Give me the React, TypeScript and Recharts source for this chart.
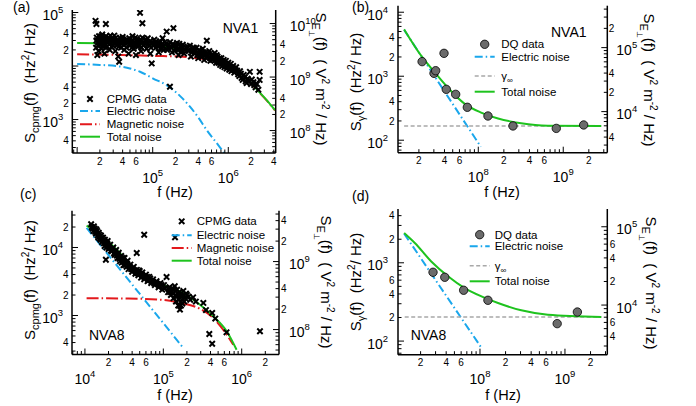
import React from 'react';
import { ComposedChart, Line, Scatter, XAxis, YAxis } from 'recharts';

const FONT = '"Liberation Sans", Arial, Helvetica, sans-serif';
const GREEN = '#1ec31e';
const BLUE = '#1aa7ec';
const RED = '#e3191c';
const GRAY = '#a8a8a8';
const DQFILL = '#6b6b6b';

type Pair = [number, number];

// ---------- (a) NVA1, CPMG ----------
const cpmgA: Pair[] = [
  [1.75e4, 7.0e4], [1.8e4, 6.1e4], [1.8e4, 3.0e4], [1.85e4, 1.6e4], [1.9e4, 2.4e4], [1.95e4, 3.6e4],
  [2.0e4, 2.8e4], [2.05e4, 3.3e4], [2.1e4, 2.1e4], [2.15e4, 3.9e4], [2.2e4, 2.6e4], [2.3e4, 1.7e4],
  [2.35e4, 3.1e4], [2.4e4, 6.1e4], [2.45e4, 2.9e4], [2.5e4, 2.3e4], [2.6e4, 3.4e4], [2.7e4, 2.0e4],
  [2.8e4, 2.7e4], [2.9e4, 3.2e4], [3.0e4, 2.4e4], [3.1e4, 3.7e4], [3.2e4, 1.9e4], [3.3e4, 2.9e4],
  [3.4e4, 2.5e4], [3.5e4, 1.5e4], [3.6e4, 1.2e4], [3.7e4, 3.3e4], [3.8e4, 2.2e4], [3.9e4, 2.8e4],
  [4.0e4, 3.5e4], [4.2e4, 2.0e4], [4.4e4, 2.6e4], [4.6e4, 3.1e4], [4.8e4, 1.7e4], [5.0e4, 2.4e4],
  [5.2e4, 2.9e4], [5.4e4, 3.6e4], [5.6e4, 2.1e4], [5.8e4, 2.7e4], [6.0e4, 1.6e4], [6.2e4, 3.2e4],
  [6.4e4, 2.3e4], [6.8e4, 9.9e4], [6.8e4, 2.8e4], [7.0e4, 1.9e4], [7.3e4, 6.3e4], [7.3e4, 3.4e4],
  [7.6e4, 2.5e4], [8.0e4, 2.9e4], [8.3e4, 2.1e4], [8.6e4, 3.3e4], [9.0e4, 2.4e4], [9.3e4, 1.7e4],
  [9.7e4, 1.12e4], [1.0e5, 2.7e4], [1.05e5, 3.1e4], [1.1e5, 2.2e4], [1.15e5, 2.6e4], [1.2e5, 1.8e4],
  [1.25e5, 2.9e4], [1.3e5, 2.4e4], [1.35e5, 3.3e4], [1.4e5, 2.0e4], [1.5e5, 2.6e4], [1.53e5, 4.4e4],
  [1.6e5, 2.2e4], [1.69e5, 4.1e3], [1.7e5, 2.8e4], [1.8e5, 1.8e4], [1.88e5, 5.1e4], [1.9e5, 2.4e4],
  [2.0e5, 2.1e4], [2.1e5, 2.7e4], [2.2e5, 1.6e4], [2.3e5, 2.3e4], [2.4e5, 2.0e4], [2.5e5, 2.5e4],
  [2.6e5, 1.7e4], [2.8e5, 2.2e4], [3.0e5, 1.9e4], [3.1e5, 2.4e4], [3.2e5, 1.5e4], [3.4e5, 2.0e4],
  [3.6e5, 1.7e4], [3.8e5, 2.2e4], [4.0e5, 1.4e4], [4.2e5, 1.9e4], [4.4e5, 1.6e4], [4.6e5, 2.1e4],
  [4.8e5, 1.3e4], [5.0e5, 1.8e4], [5.2e5, 2.97e4], [5.3e5, 1.5e4], [5.6e5, 1.9e4], [5.8e5, 1.25e4],
  [6.0e5, 1.6e4], [6.3e5, 1.4e4], [6.6e5, 1.75e4], [6.9e5, 1.15e4], [7.2e5, 1.5e4], [7.5e5, 1.3e4],
  [7.8e5, 1.05e4], [8.1e5, 1.4e4], [8.5e5, 1.15e4], [8.9e5, 9.5e3], [9.3e5, 1.25e4], [9.8e5, 1.0e4],
  [1.03e6, 8.5e3], [1.08e6, 1.1e4], [1.13e6, 9.0e3], [1.2e6, 7.5e3], [1.27e6, 9.5e3], [1.35e6, 7.0e3],
  [1.43e6, 8.0e3], [1.5e6, 6.0e3], [1.6e6, 6.8e3], [1.7e6, 5.2e3], [1.8e6, 5.8e3], [1.93e6, 7.8e3],
  [2.0e6, 4.6e3], [2.15e6, 5.0e3], [2.3e6, 4.0e3], [2.5e6, 3.6e3], [2.6e6, 7.8e3], [2.6e6, 5.5e3],
  [1.78e4, 2.2e4], [1.82e4, 3.4e4], [1.88e4, 2.7e4], [1.92e4, 1.9e4], [1.98e4, 3.1e4], [2.02e4, 2.5e4],
  [2.08e4, 3.6e4], [2.12e4, 2.9e4], [2.18e4, 2.3e4], [2.25e4, 3.4e4], [2.28e4, 2.8e4], [2.38e4, 2.2e4],
  [2.42e4, 3.6e4], [2.55e4, 2.7e4], [2.65e4, 3.0e4], [2.75e4, 3.7e4], [2.85e4, 2.3e4], [2.95e4, 2.8e4],
  [3.05e4, 3.1e4], [3.15e4, 2.6e4], [3.25e4, 3.4e4], [3.45e4, 3.0e4], [3.55e4, 2.3e4], [3.75e4, 2.7e4],
  [3.95e4, 3.2e4], [4.1e4, 2.5e4], [4.3e4, 3.0e4], [4.5e4, 2.2e4], [4.7e4, 2.8e4], [4.9e4, 3.3e4],
  [5.1e4, 2.6e4], [5.3e4, 2.2e4], [5.5e4, 3.0e4], [5.7e4, 2.4e4], [5.9e4, 3.4e4], [6.1e4, 2.6e4],
  [6.3e4, 2.9e4], [6.6e4, 2.5e4], [6.9e4, 3.1e4], [7.1e4, 2.2e4], [7.8e4, 2.7e4], [8.2e4, 3.1e4],
  [8.8e4, 2.6e4], [9.2e4, 2.9e4], [9.5e4, 2.2e4], [1.02e5, 2.4e4], [1.08e5, 2.8e4], [1.12e5, 2.5e4],
  [1.18e5, 2.3e4], [1.22e5, 2.7e4], [1.28e5, 2.1e4], [1.33e5, 2.6e4], [1.38e5, 2.3e4], [1.45e5, 2.8e4],
  [1.55e5, 2.0e4], [1.65e5, 2.5e4], [1.75e5, 2.2e4], [1.85e5, 2.6e4], [1.95e5, 1.9e4], [2.05e5, 2.4e4],
  [2.15e5, 2.0e4], [2.25e5, 2.6e4], [2.35e5, 1.8e4], [2.45e5, 2.2e4], [2.7e5, 2.0e4], [2.9e5, 2.3e4],
  [3.3e5, 1.8e4], [3.5e5, 2.2e4], [3.7e5, 1.9e4], [3.9e5, 1.6e4], [4.1e5, 2.0e4], [4.3e5, 1.7e4],
  [4.5e5, 1.5e4], [4.7e5, 1.8e4], [4.9e5, 1.6e4], [5.1e5, 1.4e4], [5.5e5, 1.7e4], [5.7e5, 1.45e4],
  [6.1e5, 1.3e4], [6.5e5, 1.55e4], [6.8e5, 1.3e4], [7.0e5, 1.6e4], [7.4e5, 1.15e4], [7.7e5, 1.4e4],
  [8.0e5, 1.2e4], [8.3e5, 1.0e4], [8.7e5, 1.3e4], [9.1e5, 1.1e4], [9.5e5, 9.0e3], [1.0e6, 1.15e4],
  [1.06e6, 9.5e3], [1.1e6, 8.0e3], [1.16e6, 1.0e4], [1.24e6, 8.5e3], [1.31e6, 8.2e3], [1.4e6, 6.5e3],
  [1.47e6, 7.2e3], [1.55e6, 5.5e3], [1.65e6, 6.2e3], [1.75e6, 4.8e3], [1.85e6, 5.3e3], [2.05e6, 5.6e3],
  [2.2e6, 4.4e3], [2.4e6, 4.6e3],
];
const elecA: Pair[] = [
  [1e4, 1.09e4], [2e4, 1.05e4], [3.3e4, 1.0e4], [5e4, 9.0e3], [6.8e4, 7.8e3], [1e5, 5.9e3],
  [1.69e5, 4.0e3], [2.4e5, 2.6e3], [3.11e5, 1.74e3], [4e5, 1.1e3], [5.18e5, 637], [6.4e5, 430],
  [7.8e5, 300], [9e5, 230],
];
const magA: Pair[] = [
  [1e4, 1.66e4], [3e4, 1.62e4], [1e5, 1.55e4], [2.54e5, 1.49e4], [4e5, 1.4e4], [5.2e5, 1.33e4],
  [7.8e5, 1.17e4], [1.16e6, 8.9e3], [1.75e6, 5.8e3], [2.38e6, 3.6e3], [3.22e6, 2.28e3], [4.15e6, 1.48e3],
];
const totA: Pair[] = [
  [1e4, 2.7e4], [3.7e4, 2.65e4], [9.6e4, 2.5e4], [1.97e5, 2.14e4], [4.2e5, 1.73e4], [7.8e5, 1.2e4],
  [1.16e6, 9.06e3], [1.75e6, 5.9e3], [2.38e6, 3.66e3], [3.22e6, 2.31e3], [4.15e6, 1.5e3],
];

// ---------- (b) NVA1, DQ ----------
const dqB: Pair[] = [
  [2.18e7, 1.69e3], [3.01e7, 1.11e3], [3.15e7, 1.22e3], [3.95e7, 2.28e3], [4.2e7, 624], [5.42e7, 521],
  [7.43e7, 327], [1.3e8, 239], [2.56e8, 167], [8.28e8, 153], [1.74e9, 173],
];
const elecB: Pair[] = [[1.34e7, 5.3e3], [1.07e8, 79]];
const gamB: Pair[] = [[1.34e7, 167], [2.8e9, 167]];
const totB: Pair[] = [
  [1.34e7, 5.4e3], [2.18e7, 2.0e3], [3.07e7, 1.15e3], [4.4e7, 660], [6.92e7, 370], [1.08e8, 270],
  [1.71e8, 218], [3.2e8, 184], [6.6e8, 169], [2.8e9, 167],
];

// ---------- (c) NVA8, CPMG ----------
const cpmgC: Pair[] = [
  [1.2e4, 2.2e4], [1.25e4, 1.9e4], [1.3e4, 2.05e4], [1.35e4, 1.7e4], [1.4e4, 1.85e4], [1.45e4, 1.5e4],
  [1.5e4, 1.65e4], [1.55e4, 1.35e4], [1.6e4, 1.5e4], [1.65e4, 1.2e4], [1.7e4, 1.4e4], [1.75e4, 1.15e4],
  [1.8e4, 1.3e4], [1.85e4, 6.6e3], [1.9e4, 1.1e4], [1.95e4, 1.25e4], [2.0e4, 9.5e3], [2.1e4, 1.1e4],
  [2.2e4, 8.8e3], [2.3e4, 1.0e4], [2.4e4, 7.8e3], [2.5e4, 9.2e3], [2.6e4, 7.0e3], [2.7e4, 8.4e3],
  [2.8e4, 6.3e3], [2.9e4, 7.5e3], [3.0e4, 6.6e3], [3.1e4, 5.5e3], [3.2e4, 7.0e3], [3.3e4, 6.0e3],
  [3.4e4, 5.2e3], [3.5e4, 6.4e3], [3.6e4, 4.8e3], [3.8e4, 5.6e3], [4.0e4, 4.4e3], [4.2e4, 5.2e3],
  [4.4e4, 4.1e3], [4.58e4, 8.3e3], [4.6e4, 4.7e3], [4.8e4, 3.9e3], [5.0e4, 4.5e3], [5.2e4, 3.6e3],
  [5.4e4, 4.3e3], [5.7e4, 1.54e4], [5.7e4, 3.4e3], [6.0e4, 4.0e3], [6.3e4, 3.2e3], [6.6e4, 3.7e3],
  [7.0e4, 3.0e3], [7.4e4, 3.4e3], [7.8e4, 2.8e3], [8.2e4, 3.2e3], [8.7e4, 2.6e3], [9.2e4, 3.0e3],
  [9.7e4, 2.4e3], [1.02e5, 2.8e3], [1.1e5, 3.68e3], [1.15e5, 2.2e3], [1.2e5, 2.6e3], [1.25e5, 2.0e3],
  [1.3e5, 2.5e3], [1.35e5, 1.8e3], [1.4e5, 2.7e3], [1.41e5, 1.41e4], [1.45e5, 1.6e3], [1.5e5, 2.4e3],
  [1.55e5, 1.4e3], [1.6e5, 2.2e3], [1.63e5, 1.22e3], [1.7e5, 1.9e3], [1.75e5, 1.5e3], [1.8e5, 2.3e3],
  [1.9e5, 1.8e3], [2.0e5, 2.0e3], [2.2e5, 1.7e3], [2.4e5, 1.85e3], [2.6e5, 1.6e3], [3.24e5, 1.53e3],
  [3.5e5, 1.2e3], [3.86e5, 535], [4.2e5, 1.09e3], [4.2e5, 384], [4.6e5, 900], [6.4e5, 566], [1.71e6, 587],
  [1.22e4, 2.0e4], [1.28e4, 1.75e4], [1.33e4, 1.9e4], [1.38e4, 1.6e4], [1.43e4, 1.75e4], [1.48e4, 1.4e4],
  [1.53e4, 1.55e4], [1.58e4, 1.3e4], [1.63e4, 1.4e4], [1.68e4, 1.25e4], [1.73e4, 1.3e4], [1.78e4, 1.05e4],
  [1.83e4, 1.2e4], [1.88e4, 1.0e4], [1.93e4, 1.15e4], [2.05e4, 1.0e4], [2.15e4, 9.0e3], [2.25e4, 9.6e3],
  [2.35e4, 8.2e3], [2.45e4, 8.6e3], [2.55e4, 7.6e3], [2.65e4, 8.0e3], [2.75e4, 6.8e3], [2.85e4, 7.2e3],
  [2.95e4, 6.0e3], [3.05e4, 7.0e3], [3.15e4, 6.2e3], [3.25e4, 5.5e3], [3.45e4, 5.8e3], [3.7e4, 5.2e3],
  [3.9e4, 4.8e3], [4.1e4, 5.0e3], [4.3e4, 4.6e3], [4.5e4, 4.3e3], [4.7e4, 4.2e3], [4.9e4, 4.6e3],
  [5.1e4, 4.1e3], [5.3e4, 4.0e3], [5.5e4, 3.8e3], [5.9e4, 3.6e3], [6.2e4, 3.7e3], [6.5e4, 3.3e3],
  [6.8e4, 3.5e3], [7.2e4, 3.2e3], [7.6e4, 3.0e3], [8.0e4, 3.0e3], [8.5e4, 2.9e3], [9.0e4, 2.7e3],
  [9.5e4, 2.8e3], [1.05e5, 2.5e3], [1.18e5, 2.4e3], [1.22e5, 2.2e3], [1.28e5, 2.3e3], [1.33e5, 2.1e3],
  [1.38e5, 2.4e3], [1.43e5, 2.0e3], [1.48e5, 1.9e3], [1.53e5, 2.1e3], [1.58e5, 1.7e3], [1.65e5, 2.0e3],
  [1.68e5, 1.4e3], [1.72e5, 1.7e3], [1.78e5, 2.0e3], [1.85e5, 1.6e3], [1.95e5, 2.1e3], [2.1e5, 1.9e3],
];
const elecC: Pair[] = [[1.05e4, 1.94e4], [1.8e5, 333]];
const magC: Pair[] = [
  [1.05e4, 1.8e3], [3e4, 1.78e3], [9.1e4, 1.71e3], [1.63e5, 1.53e3], [2.94e5, 1.25e3], [4.34e5, 918],
  [6.44e5, 522], [7.8e5, 372],
];
const totC: Pair[] = [
  [1.05e4, 2.09e4], [1.56e4, 1.54e4], [2.55e4, 9.3e3], [4.14e4, 5.0e3], [6.76e4, 3.56e3], [1.1e5, 2.69e3],
  [1.8e5, 2.14e3], [2.94e5, 1.44e3], [4.34e5, 973], [6.44e5, 586], [8.6e5, 314],
];

// ---------- (d) NVA8, DQ ----------
const dqD: Pair[] = [[2.8e7, 757], [3.85e7, 653], [6.42e7, 446], [1.24e8, 332], [8.1e8, 167], [1.4e9, 235]];
const elecD: Pair[] = [[1.28e7, 2.36e3], [1.04e8, 82]];
const gamD: Pair[] = [[1.3e7, 203], [2.7e9, 203]];
const totD: Pair[] = [
  [1.28e7, 2.4e3], [1.71e7, 1.79e3], [2.67e7, 1.04e3], [4.2e7, 673], [6.6e7, 476], [1.04e8, 373],
  [1.63e8, 307], [3.06e8, 247], [6.3e8, 217], [2.67e9, 203],
];

const pts = (a: Pair[]) => a.map(([f, S]) => ({ f, S }));

// ---------- axes helpers ----------
const dec = (v: number) => Math.floor(Math.log10(v) + 1e-9);
const mant = (v: number) => Math.round(v / Math.pow(10, dec(v)));
const logTicks = (lo: number, hi: number) => {
  const out: number[] = [];
  for (let e = dec(lo); e <= dec(hi); e++) {
    for (let m = 1; m < 10; m++) {
      const v = m * Math.pow(10, e);
      if (v >= lo && v <= hi) out.push(v);
    }
  }
  return out;
};
const same = (a: number, b: number) => Math.abs(a / b - 1) < 1e-6;

const MAJ = 6;
const MIN = 3.5;
const AX = { stroke: '#000', strokeWidth: 1.5 };

const Pow = ({ x, y, e, anchor }: { x: number; y: number; e: number; anchor: string }) => (
  <text x={x} y={y} textAnchor={anchor as any} fontFamily={FONT} fontSize={14} fill="#000">
    10<tspan dy={-7} fontSize={9.5}>{e}</tspan>
  </text>
);
const Small = ({ x, y, m, anchor }: { x: number; y: number; m: number; anchor: string }) => (
  <text x={x} y={y} textAnchor={anchor as any} fontFamily={FONT} fontSize={10} fill="#000">{m}</text>
);

type Cfg = {
  x: number; y: number; w: number; h: number;
  pl: number; pr: number; pt: number; pb: number;
  xDom: [number, number]; yDom: [number, number]; rDom: [number, number];
  xLab: number[]; yLab: number[]; rLab: number[];
  noLab: number[];
  lMaj: number; rMin: number; rMaj: number;
};

const bottomTick = (c: Cfg) => (p: any) => {
  const { x, y, payload } = p;
  const v = payload.value;
  const m = mant(v);
  const skip = c.noLab.some((s) => same(s, v));
  return (
    <g>
      <line x1={x} y1={y} x2={x} y2={y - (m === 1 ? MAJ : MIN)} stroke="#000" strokeWidth={1} />
      {!skip && m === 1 && <Pow x={x} y={y + 29.5} e={dec(v)} anchor="middle" />}
      {!skip && m !== 1 && c.xLab.includes(m) && <Small x={x} y={y + 11.5} m={m} anchor="middle" />}
    </g>
  );
};
const topTick = (p: any) => {
  const { x, y, payload } = p;
  const m = mant(payload.value);
  return <line x1={x} y1={y} x2={x} y2={y + (m === 1 ? MAJ : MIN)} stroke="#000" strokeWidth={1} />;
};
const leftTick = (c: Cfg) => (p: any) => {
  const { x, y, payload } = p;
  const v = payload.value;
  const m = mant(v);
  const skip = c.noLab.some((s) => same(s, v));
  return (
    <g>
      <line x1={x} y1={y} x2={x + (m === 1 ? MAJ : MIN)} y2={y} stroke="#000" strokeWidth={1} />
      {!skip && m === 1 && <Pow x={x - c.lMaj} y={y + 7.5} e={dec(v)} anchor="end" />}
      {!skip && m !== 1 && c.yLab.includes(m) && <Small x={x - 3.5} y={y + 3.6} m={m} anchor="end" />}
    </g>
  );
};
const rightTick = (c: Cfg) => (p: any) => {
  const { x, y, payload } = p;
  const v = payload.value;
  const m = mant(v);
  const skip = c.noLab.some((s) => same(s, v));
  return (
    <g>
      <line x1={x} y1={y} x2={x - (m === 1 ? MAJ : MIN)} y2={y} stroke="#000" strokeWidth={1} />
      {!skip && m === 1 && <Pow x={x + c.rMaj} y={y + 7.5} e={dec(v)} anchor="start" />}
      {!skip && m !== 1 && c.rLab.includes(m) && <Small x={x + c.rMin} y={y + 3.6} m={m} anchor="start" />}
    </g>
  );
};

const XMark = (p: any) => {
  const { cx, cy } = p;
  const s = 2.7;
  return (
    <path
      d={`M${cx - s},${cy - s}L${cx + s},${cy + s}M${cx - s},${cy + s}L${cx + s},${cy - s}`}
      stroke="#000"
      strokeWidth={2}
      fill="none"
    />
  );
};
const DQDot = (p: any) => <circle cx={p.cx} cy={p.cy} r={4.2} fill={DQFILL} stroke="#000" strokeWidth={0.8} />;

function Panel({ c, children }: { c: Cfg; children: React.ReactNode }) {
  const xt = logTicks(c.xDom[0], c.xDom[1]);
  return (
    <div style={{ position: 'absolute', left: c.x, top: c.y, width: c.w, height: c.h }}>
      <ComposedChart width={c.w} height={c.h} margin={{ top: c.pt, right: 0, bottom: 0, left: 0 }}>
        <XAxis dataKey="f" type="number" scale="log" domain={c.xDom} allowDataOverflow ticks={xt}
          interval={0} tickSize={0} tickMargin={0} tickLine={false} axisLine={AX}
          height={c.h - c.pb} tick={bottomTick(c)} />
        <XAxis xAxisId="top" orientation="top" type="number" scale="log" domain={c.xDom} allowDataOverflow
          ticks={xt} interval={0} tickSize={0} tickMargin={0} tickLine={false} axisLine={AX}
          height={0} tick={topTick} />
        <YAxis dataKey="S" type="number" scale="log" domain={c.yDom} allowDataOverflow
          ticks={logTicks(c.yDom[0], c.yDom[1])} interval={0} tickSize={0} tickMargin={0} tickLine={false}
          axisLine={AX} width={c.pl} tick={leftTick(c)} />
        <YAxis yAxisId="r" orientation="right" type="number" scale="log" domain={c.rDom} allowDataOverflow
          ticks={logTicks(c.rDom[0], c.rDom[1])} interval={0} tickSize={0} tickMargin={0} tickLine={false}
          axisLine={AX} width={c.w - c.pr} tick={rightTick(c)} />
        {children}
      </ComposedChart>
    </div>
  );
}

const A: Cfg = {
  x: 0, y: 0, w: 348, h: 203, pl: 72.3, pr: 275.7, pt: 10, pb: 153,
  xDom: [8630, 4.24e6], yDom: [237, 1.114e5], rDom: [3.81e7, 1.79e10],
  xLab: [2, 4, 6], yLab: [2, 4], rLab: [2, 4], noLab: [1e4, 4e7], lMaj: 9, rMin: 4, rMaj: 14,
};
const B: Cfg = {
  x: 348, y: 0, w: 348, h: 203, pl: 50, pr: 259.3, pt: 5.7, pb: 152.7,
  xDom: [1.135e7, 3.3e9], yDom: [63.8, 1.265e4], rDom: [2280, 4.52e5],
  xLab: [2, 4, 6], yLab: [2, 4], rLab: [2, 4], noLab: [4e5], lMaj: 10, rMin: 1.5, rMaj: 9,
};
const C: Cfg = {
  x: 0, y: 203, w: 348, h: 203, pl: 72, pr: 279, pt: 7.7, pb: 151.5,
  xDom: [6840, 2.99e6], yDom: [267, 3.475e4], rDom: [4.3e7, 5.6e9],
  xLab: [2, 4, 6], yLab: [2, 4], rLab: [2, 4], noLab: [], lMaj: 9, rMin: 2, rMaj: 10,
};
const D: Cfg = {
  x: 348, y: 203, w: 348, h: 203, pl: 50, pr: 259.3, pt: 6, pb: 151.7,
  xDom: [1.084e7, 3.15e9], yDom: [67, 4864], rDom: [2323, 1.686e5],
  xLab: [2, 4, 6], yLab: [2, 4, 6], rLab: [2, 4, 6], noLab: [], lMaj: 10, rMin: 2.4, rMaj: 9,
};

const ELEC_DASH = '8,3,1.5,3';
const MAG_DASH = '12,3,1.5,3';
const GAM_DASH = '4,2.5';

const curve = (d: Pair[], color: string, dash?: string, w = 2) => (
  <Line data={pts(d)} dataKey="S" stroke={color} strokeWidth={w} strokeDasharray={dash} dot={false}
    type="monotone" isAnimationActive={false} />
);

const T = { fontFamily: FONT, fill: '#000' } as const;

function LegendRow({ x, y, tx, kind, label }: { x: number; y: number; tx: number; kind: string; label: React.ReactNode }) {
  let mark: React.ReactNode = null;
  if (kind === 'cpmg') mark = XMark({ cx: x + 10, cy: y });
  if (kind === 'dq') mark = DQDot({ cx: x + 10, cy: y });
  if (kind === 'elec') mark = <line x1={x} y1={y} x2={x + 20} y2={y} stroke={BLUE} strokeWidth={2} strokeDasharray={ELEC_DASH} />;
  if (kind === 'mag') mark = <line x1={x} y1={y} x2={x + 20} y2={y} stroke={RED} strokeWidth={2} strokeDasharray={MAG_DASH} />;
  if (kind === 'gam') mark = <line x1={x} y1={y} x2={x + 20} y2={y} stroke={GRAY} strokeWidth={1.5} strokeDasharray={GAM_DASH} />;
  if (kind === 'tot') mark = <line x1={x} y1={y} x2={x + 20} y2={y} stroke={GREEN} strokeWidth={2} />;
  return (
    <g>
      {mark}
      <text x={tx} y={y + 4} fontSize={11.5} {...T}>{label}</text>
    </g>
  );
}

const Gamma = () => (<>γ<tspan dy={3} fontSize={8}>∞</tspan></>);

const LeftTitle = ({ x, y, sub }: { x: number; y: number; sub: string }) => (
  <text transform={`translate(${x},${y}) rotate(-90)`} textAnchor="middle" fontSize={15} style={{ whiteSpace: 'pre' }} {...T}>
    S<tspan dy={4} fontSize={11}>{sub}</tspan><tspan dy={-4}>(f)  (Hz</tspan><tspan dy={-6} fontSize={10}>2</tspan><tspan dy={6}>/ Hz)</tspan>
  </text>
);
const RightTitle = ({ x, y }: { x: number; y: number }) => (
  <text transform={`translate(${x},${y}) rotate(90)`} textAnchor="middle" fontSize={15} style={{ whiteSpace: 'pre' }} {...T}>
    S<tspan dy={4} fontSize={11}>E</tspan><tspan dy={3} fontSize={8}>⊥</tspan><tspan dy={-7}>(f)  ( V</tspan>
    <tspan dy={-6} fontSize={10}>2</tspan><tspan dy={6}> m</tspan><tspan dy={-6} fontSize={10}>-2</tspan><tspan dy={6}> / Hz)</tspan>
  </text>
);

export default function App() {
  return (
    <div style={{ position: 'absolute', left: 0, top: 0, width: 696, height: 406, background: '#fff', overflow: 'hidden' }}>
      <Panel c={A}>
        {curve(elecA, BLUE, ELEC_DASH)}
        {curve(magA, RED, MAG_DASH)}
        {curve(totA, GREEN)}
        <Scatter data={pts(cpmgA)} dataKey="S" shape={XMark} isAnimationActive={false} />
      </Panel>
      <Panel c={B}>
        {curve(elecB, BLUE, ELEC_DASH)}
        {curve(gamB, GRAY, GAM_DASH, 1.5)}
        {curve(totB, GREEN)}
        <Scatter data={pts(dqB)} dataKey="S" shape={DQDot} isAnimationActive={false} />
      </Panel>
      <Panel c={C}>
        {curve(elecC, BLUE, ELEC_DASH)}
        {curve(magC, RED, MAG_DASH)}
        {curve(totC, GREEN)}
        <Scatter data={pts(cpmgC)} dataKey="S" shape={XMark} isAnimationActive={false} />
      </Panel>
      <Panel c={D}>
        {curve(elecD, BLUE, ELEC_DASH)}
        {curve(gamD, GRAY, GAM_DASH, 1.5)}
        {curve(totD, GREEN)}
        <Scatter data={pts(dqD)} dataKey="S" shape={DQDot} isAnimationActive={false} />
      </Panel>

      <svg width={696} height={406} style={{ position: 'absolute', left: 0, top: 0, pointerEvents: 'none' }}>
        <text x={13} y={12} fontSize={14} {...T}>(a)</text>
        <text x={352} y={12} fontSize={14} {...T}>(b)</text>
        <text x={20} y={199} fontSize={14} {...T}>(c)</text>
        <text x={352} y={201} fontSize={14} {...T}>(d)</text>

        <text x={222.7} y={33.3} fontSize={14} {...T}>NVA1</text>
        <text x={551} y={36.7} fontSize={14} {...T}>NVA1</text>
        <text x={89} y={340} fontSize={14} {...T}>NVA8</text>
        <text x={410.7} y={339.7} fontSize={14} {...T}>NVA8</text>

        <text x={175} y={197} textAnchor="middle" fontSize={14.5} {...T}>f (Hz)</text>
        <text x={502} y={197} textAnchor="middle" fontSize={14.5} {...T}>f (Hz)</text>
        <text x={175} y={400} textAnchor="middle" fontSize={14.5} {...T}>f (Hz)</text>
        <text x={503} y={400} textAnchor="middle" fontSize={14.5} {...T}>f (Hz)</text>

        <LeftTitle x={35} y={83} sub="cpmg" />
        <LeftTitle x={361} y={82} sub="γ" />
        <LeftTitle x={35} y={280} sub="cpmg" />
        <LeftTitle x={361} y={282} sub="γ" />
        <RightTitle x={316} y={79} />
        <RightTitle x={644} y={80} />
        <RightTitle x={321} y={282} />
        <RightTitle x={646} y={283} />

        <LegendRow x={80} y={99} tx={106.7} kind="cpmg" label="CPMG data" />
        <LegendRow x={80} y={111} tx={106.7} kind="elec" label="Electric noise" />
        <LegendRow x={80} y={124.3} tx={106.7} kind="mag" label="Magnetic noise" />
        <LegendRow x={80} y={136.7} tx={106.7} kind="tot" label="Total noise" />

        <LegendRow x={474.7} y={44.3} tx={501.3} kind="dq" label="DQ data" />
        <LegendRow x={474.7} y={56.7} tx={501.3} kind="elec" label="Electric noise" />
        <LegendRow x={474.7} y={76} tx={501.3} kind="gam" label={<Gamma />} />
        <LegendRow x={474.7} y={91.7} tx={501.3} kind="tot" label="Total noise" />

        <LegendRow x={171.7} y={221.3} tx={196.7} kind="cpmg" label="CPMG data" />
        <LegendRow x={171.7} y={235.3} tx={196.7} kind="elec" label="Electric noise" />
        <LegendRow x={171.7} y={248} tx={196.7} kind="mag" label="Magnetic noise" />
        <LegendRow x={171.7} y={260.7} tx={196.7} kind="tot" label="Total noise" />

        <LegendRow x={469.7} y={234.7} tx={494.7} kind="dq" label="DQ data" />
        <LegendRow x={469.7} y={246.3} tx={494.7} kind="elec" label="Electric noise" />
        <LegendRow x={469.7} y={265.7} tx={494.7} kind="gam" label={<Gamma />} />
        <LegendRow x={469.7} y={281.3} tx={494.7} kind="tot" label="Total noise" />
      </svg>
    </div>
  );
}
